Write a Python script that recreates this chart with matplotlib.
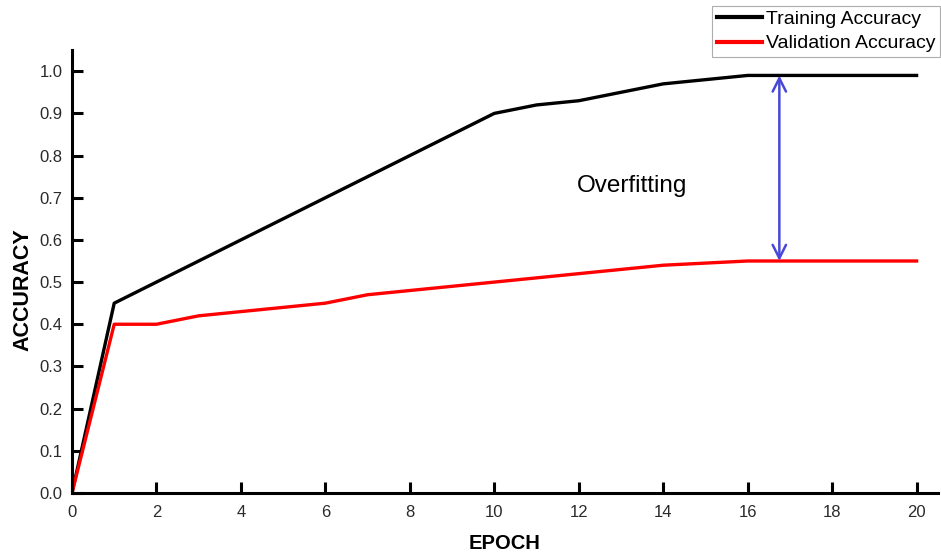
import matplotlib
matplotlib.use("Agg")
import matplotlib.pyplot as plt

plt.rcParams['font.family'] = ['Liberation Sans', 'DejaVu Sans']

epochs = list(range(0, 21))
train_acc = [0.0, 0.45, 0.50, 0.55, 0.60, 0.65, 0.70, 0.75, 0.80, 0.85, 0.90,
             0.92, 0.93, 0.95, 0.97, 0.98, 0.99, 0.99, 0.99, 0.99, 0.99]
val_acc = [0.0, 0.40, 0.40, 0.42, 0.43, 0.44, 0.45, 0.47, 0.48, 0.49, 0.50,
           0.51, 0.52, 0.53, 0.54, 0.545, 0.55, 0.55, 0.55, 0.55, 0.55]
x_ticks = list(range(0, 21, 2))
y_ticks = [round(0.1 * i, 1) for i in range(11)]
gap_epoch = 16.75
gap_top = 0.99
gap_bottom = 0.55

fig = plt.figure(figsize=(9.41, 5.57), dpi=100)
ax = fig.add_axes([0.0765, 0.115, 0.920, 0.795])

ax.plot(epochs, train_acc, color='black', lw=2.4, label='Training Accuracy')
ax.plot(epochs, val_acc, color='#ff0000', lw=2.4, label='Validation Accuracy')

ax.annotate('', xy=(gap_epoch, gap_top), xytext=(gap_epoch, gap_bottom),
            arrowprops=dict(arrowstyle='<->', color='#4848d8', lw=1.8,
                            mutation_scale=24, shrinkA=0, shrinkB=0))
ax.text(11.95, 0.729, 'Overfitting', fontsize=17.5, ha='left', va='center')

ax.set_xlim(0, 20.5)
ax.set_ylim(0, 1.05)
ax.set_xticks(x_ticks)
ax.set_yticks(y_ticks)
ax.set_yticklabels([f'{v:.1f}' for v in y_ticks])
for s in ['top', 'right']:
    ax.spines[s].set_visible(False)
for s in ['left', 'bottom']:
    ax.spines[s].set_linewidth(2.2)
ax.tick_params(direction='in', length=8, width=2.2, labelsize=12,
               labelcolor='#2a2a2a')
ax.tick_params(axis='x', pad=9)
ax.tick_params(axis='y', pad=7)

ax.set_xlabel('EPOCH', fontsize=14.5, fontweight='bold')
ax.set_ylabel('ACCURACY', fontsize=15.5, fontweight='bold')
ax.xaxis.set_label_coords(0.5, -0.092)
ax.yaxis.set_label_coords(-0.044, 0.46)

leg = ax.legend(loc='upper right', bbox_to_anchor=(0.999, 0.99),
                bbox_transform=fig.transFigure, fontsize=14,
                frameon=True, fancybox=False, edgecolor='#999999',
                borderpad=0.25, handlelength=2.3, handletextpad=0.2,
                labelspacing=0.35, borderaxespad=0)
leg.get_frame().set_linewidth(0.8)
for line in leg.get_lines():
    line.set_linewidth(3.0)

fig.savefig('out.png', dpi=100)
